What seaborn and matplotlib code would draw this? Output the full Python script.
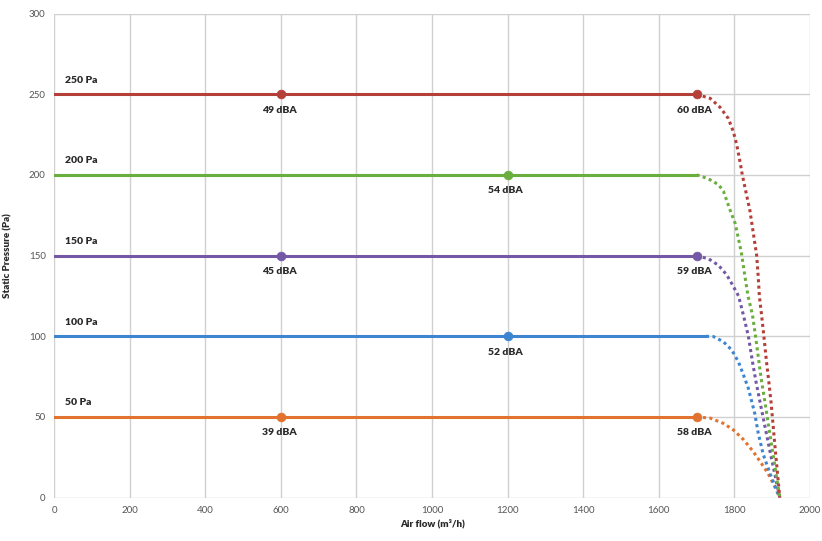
import pandas as pd
import matplotlib.pyplot as plt
import seaborn as sns

sns.set_style("white")
plt.rcParams["font.family"] = ["Lato", "DejaVu Sans"]

# pressure levels and colours
pressures = [50, 100, 150, 200, 250]
colors = ["#E2732F", "#3D85D0", "#7458A6", "#6AAE3E", "#B5403A"]

# marker points (air flow) and dBA labels per level
marker_x = {50: [600, 1700], 100: [1200], 150: [600, 1700], 200: [1200], 250: [600, 1700]}
marker_lbl = {50: ["39 dBA", "58 dBA"], 100: ["52 dBA"], 150: ["45 dBA", "59 dBA"],
              200: ["54 dBA"], 250: ["49 dBA", "60 dBA"]}

# dotted tails
tail_x = {
    50: [1700, 1736, 1771, 1797, 1824, 1850, 1872, 1889, 1907, 1920],
    100: [1725, 1745, 1771, 1793, 1811, 1824, 1837, 1846, 1854, 1863, 1876, 1894, 1912, 1920],
    150: [1700, 1732, 1758, 1780, 1797, 1811, 1824, 1837, 1848, 1857, 1868, 1893, 1920],
    200: [1700, 1710, 1736, 1758, 1771, 1789, 1802, 1813, 1819, 1828, 1836, 1848, 1856,
          1865, 1872, 1881, 1900, 1920],
    250: [1700, 1736, 1762, 1784, 1797, 1806, 1815, 1821, 1830, 1841, 1850, 1859, 1863,
          1866, 1872, 1878, 1885, 1891, 1897, 1908, 1920],
}
tail_y = {
    50: [50, 49.3, 46, 42, 36, 28.5, 21, 15, 6.7, 0],
    100: [100, 99.8, 96.6, 91.5, 84, 76, 67.7, 59.4, 52, 40, 27, 15, 4.5, 0],
    150: [150, 148, 144, 138, 131, 125, 113, 100, 84, 72, 59, 30, 0],
    200: [200, 199.5, 197, 194, 190, 178, 170, 158, 151, 137, 125, 113, 100,
          84, 72, 59, 30, 0],
    250: [250, 247.5, 242, 235, 227, 219, 208, 200, 190, 178, 164, 150, 137,
          125, 113, 100, 84, 72, 59, 30, 0],
}

fig = plt.figure(figsize=(8.22, 5.41), dpi=100)
ax = fig.add_axes([0.0657, 0.0802, 0.9197, 0.8945])

for p, c in zip(pressures, colors):
    solid = pd.DataFrame({"x": [0, tail_x[p][0]], "y": [p, p]})
    sns.lineplot(data=solid, x="x", y="y", color=c, lw=2.2, ax=ax)
    tail = pd.DataFrame({"x": tail_x[p], "y": tail_y[p]})
    sns.lineplot(data=tail, x="x", y="y", color=c, lw=2.2, sort=False,
                 linestyle=(0, (1, 1.1)), ax=ax)
    pts = pd.DataFrame({"x": marker_x[p], "y": [p] * len(marker_x[p])})
    sns.scatterplot(data=pts, x="x", y="y", color=c, s=40, edgecolor=c, zorder=5, ax=ax)
    for mx, lbl in zip(marker_x[p], marker_lbl[p]):
        ax.text(mx - 5, p - 7, lbl, ha="center", va="top", fontsize=7.5,
                fontweight="heavy", color="#2A2A2A")
    ax.text(30, p + 6, f"{p} Pa", ha="left", va="bottom", fontsize=7.5,
            fontweight="heavy", color="#2A2A2A")

ax.set_xlim(0, 2000)
ax.set_ylim(0, 300)
ax.set_xticks(range(0, 2001, 200))
ax.set_yticks(range(0, 301, 50))
ax.grid(True, color="#D0D0D0", lw=1)
for s in ax.spines.values():
    s.set_visible(False)
ax.tick_params(labelsize=7, colors="#555555", length=0, pad=6)
ax.set_xlabel("Air flow (m\u00b3/h)", fontsize=7, fontweight="heavy", color="#2A2A2A", labelpad=3)
ax.set_ylabel("Static Pressure (Pa)", fontsize=7, fontweight="heavy", color="#2A2A2A", labelpad=12)

fig.savefig("out.png", dpi=100)
